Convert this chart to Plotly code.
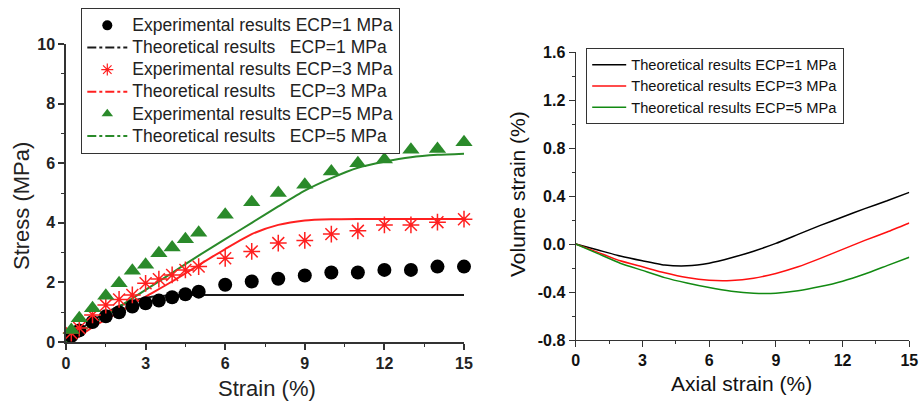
import plotly.graph_objects as go

# ---------------- Left panel data ----------------
strain_exp = [0.2, 0.5, 1, 1.5, 2, 2.5, 3, 3.5, 4, 4.5, 5, 6, 7, 8, 9, 10, 11, 12, 13, 14, 15]
exp_ecp1 = [0.2, 0.39, 0.67, 0.86, 1.0, 1.19, 1.3, 1.39, 1.5, 1.6, 1.69, 1.92, 2.03, 2.12, 2.23, 2.33, 2.33, 2.42, 2.42, 2.53, 2.53]
exp_ecp3 = [0.3, 0.47, 0.91, 1.24, 1.43, 1.58, 1.97, 2.11, 2.25, 2.42, 2.53, 2.81, 3.04, 3.32, 3.41, 3.62, 3.73, 3.93, 3.93, 4.02, 4.12]
exp_ecp5 = [0.4, 0.8, 1.13, 1.55, 1.97, 2.39, 2.59, 2.98, 3.17, 3.45, 3.67, 4.27, 4.69, 5.0, 5.28, 5.72, 6.0, 6.12, 6.45, 6.48, 6.7]

theo1_x = [0, 0.5, 1, 1.5, 2, 2.5, 3, 3.5, 4, 4.5, 15]
theo1_y = [0, 0.38, 0.72, 0.98, 1.2, 1.38, 1.48, 1.54, 1.57, 1.58, 1.58]
theo3_x = [0.2, 1, 2, 3, 4, 5, 6, 7, 8, 9, 10, 11, 15]
theo3_y = [0, 0.5, 1.0, 1.52, 2.03, 2.58, 3.12, 3.62, 3.93, 4.08, 4.12, 4.13, 4.13]
theo5_x = [0, 1, 2, 3, 4, 5, 6, 7, 8, 9, 10, 11, 12, 13, 14, 15]
theo5_y = [0, 0.6, 1.18, 1.75, 2.32, 2.9, 3.45, 4.0, 4.55, 5.08, 5.5, 5.85, 6.05, 6.2, 6.28, 6.32]

# ---------------- Right panel data ----------------
axial_strain = [0, 1, 2, 3, 4, 5, 6, 7, 8, 9, 10, 11, 12, 13, 14, 15]
vol_ecp1 = [0, -0.05, -0.10, -0.14, -0.175, -0.182, -0.16, -0.115, -0.06, 0.005, 0.08, 0.155, 0.225, 0.295, 0.36, 0.43]
vol_ecp3 = [0, -0.07, -0.14, -0.19, -0.24, -0.28, -0.303, -0.305, -0.285, -0.245, -0.19, -0.12, -0.045, 0.03, 0.10, 0.175]
vol_ecp5 = [0, -0.08, -0.16, -0.22, -0.28, -0.325, -0.363, -0.393, -0.41, -0.41, -0.39, -0.355, -0.31, -0.25, -0.18, -0.11]

# ---------------- Tick labels ----------------
left_x_ticks = [0, 3, 6, 9, 12, 15]
left_y_ticks = [0, 2, 4, 6, 8, 10]
right_x_ticks = [0, 3, 6, 9, 12, 15]
right_y_ticks = [-0.8, -0.4, 0.0, 0.4, 0.8, 1.2, 1.6]
right_y_labels = ["-0.8", "-0.4", "0.0", "0.4", "0.8", "1.2", "1.6"]

left_legend_names = ["Experimental results ECP=1 MPa",
                     "Theoretical results\u00a0\u00a0\u00a0ECP=1 MPa",
                     "Experimental results ECP=3 MPa",
                     "Theoretical results\u00a0\u00a0\u00a0ECP=3 MPa",
                     "Experimental results ECP=5 MPa",
                     "Theoretical results\u00a0\u00a0\u00a0ECP=5 MPa"]
right_legend_names = ["Theoretical results ECP=1 MPa",
                      "Theoretical results ECP=3 MPa",
                      "Theoretical results ECP=5 MPa"]

FONT = "Liberation Sans, Arial, sans-serif"
BLACK = "#000000"
RED_L = "#ff2020"
GREEN_L = "#2a8a2a"
RED_R = "#ff1010"
GREEN_R = "#128a12"


def lname(s, px):
    return '<span style="font-size:%gpx">%s</span>' % (px, s)


def bold(vals):
    return ["<b>%s</b>" % v for v in vals]


fig = go.Figure()

# Left: theoretical lines (solid, drawn under markers)
for x, y, c in [(theo1_x, theo1_y, "#1a1a1a"), (theo3_x, theo3_y, RED_L), (theo5_x, theo5_y, GREEN_L)]:
    fig.add_trace(go.Scatter(x=x, y=y, mode="lines", line=dict(color=c, width=2, shape="spline", smoothing=0.6),
                             showlegend=False, xaxis="x", yaxis="y", hoverinfo="skip"))

# Left: experimental markers
exp_styles = [
    (exp_ecp1, dict(symbol="circle", size=14, color=BLACK)),
    (exp_ecp3, dict(symbol="asterisk-open", size=14, color=RED_L, line=dict(color=RED_L, width=1.5))),
    (exp_ecp5, dict(symbol="triangle-up", size=15, color=GREEN_L)),
]
for y, m in exp_styles:
    fig.add_trace(go.Scatter(x=strain_exp, y=y, mode="markers", marker=m, cliponaxis=False,
                             showlegend=False, xaxis="x", yaxis="y"))

# Left legend entries (smaller symbols, dash-dot lines)
legend_marks = [
    dict(symbol="circle", size=10, color=BLACK),
    dict(symbol="asterisk-open", size=10, color=RED_L, line=dict(color=RED_L, width=1.2)),
    dict(symbol="triangle-up", size=10, color=GREEN_L),
]
line_cols = ["#1a1a1a", RED_L, GREEN_L]
for k in range(3):
    fig.add_trace(go.Scatter(x=[None], y=[None], mode="markers", name=lname(left_legend_names[2 * k], 17.5),
                             marker=legend_marks[k], legend="legend", xaxis="x", yaxis="y"))
    fig.add_trace(go.Scatter(x=[None], y=[None], mode="lines", name=lname(left_legend_names[2 * k + 1], 17.5),
                             line=dict(color=line_cols[k], width=2, dash="dashdot"),
                             legend="legend", xaxis="x", yaxis="y"))

# Right panel lines
for y, c, n in [(vol_ecp1, BLACK, right_legend_names[0]), (vol_ecp3, RED_R, right_legend_names[1]),
                (vol_ecp5, GREEN_R, right_legend_names[2])]:
    fig.add_trace(go.Scatter(x=axial_strain, y=y, mode="lines", name=lname(n, 14.7),
                             line=dict(color=c, width=1.5, shape="spline", smoothing=0.5),
                             legend="legend2", xaxis="x2", yaxis="y2"))

W, H = 919, 401


def px_x(p):
    return p / W


def px_y(p):
    return 1 - p / H


axis_common = dict(showline=True, showgrid=False, zeroline=False, ticks="outside", mirror=False)

fig.update_layout(
    width=W, height=H,
    margin=dict(l=0, r=0, t=0, b=0, autoexpand=False),
    template="none",
    paper_bgcolor="white", plot_bgcolor="white",
    font=dict(family=FONT, color="#222"),
    xaxis=dict(**axis_common, domain=[px_x(66), px_x(464)], range=[0, 15],
               tickvals=left_x_ticks, ticktext=bold(left_x_ticks),
               linecolor="#333", linewidth=1.5, tickcolor="#333", tickwidth=1.5, ticklen=6,
               tickfont=dict(family=FONT, size=16, color="#222"),
               minor=dict(dtick=1.5, tick0=0, ticks="outside", ticklen=3, tickcolor="#333", tickwidth=1.2),
               anchor="y"),
    yaxis=dict(**axis_common, domain=[px_y(342), px_y(44)], range=[0, 10],
               tickvals=left_y_ticks, ticktext=bold(left_y_ticks),
               linecolor="#333", linewidth=1.5, tickcolor="#333", tickwidth=1.5, ticklen=6,
               tickfont=dict(family=FONT, size=16, color="#222"),
               minor=dict(dtick=1, tick0=0, ticks="outside", ticklen=3, tickcolor="#333", tickwidth=1.2),
               anchor="x"),
    xaxis2=dict(**axis_common, domain=[px_x(575.7), px_x(909.3)], range=[0, 15],
                tickvals=right_x_ticks, ticktext=bold(right_x_ticks),
                linecolor="#333", linewidth=1.3, tickcolor="#333", tickwidth=1.3, ticklen=6,
                tickfont=dict(family=FONT, size=16, color="#111"),
                minor=dict(dtick=1.5, tick0=0, ticks="outside", ticklen=3, tickcolor="#333", tickwidth=1.1),
                anchor="y2"),
    yaxis2=dict(**axis_common, domain=[px_y(340), px_y(52)], range=[-0.8, 1.6],
                tickvals=right_y_ticks, ticktext=bold(right_y_labels),
                linecolor="#333", linewidth=1.3, tickcolor="#333", tickwidth=1.3, ticklen=6,
                tickfont=dict(family=FONT, size=16, color="#111"),
                minor=dict(dtick=0.2, tick0=0, ticks="outside", ticklen=3, tickcolor="#333", tickwidth=1.1),
                anchor="x2"),
    legend=dict(x=px_x(81), y=px_y(8), xanchor="left", yanchor="top",
                bgcolor="white", bordercolor="#333", borderwidth=1.3,
                font=dict(family=FONT, size=14.7, color="#222"), itemwidth=40,
                tracegroupgap=0, traceorder="normal"),
    legend2=dict(x=px_x(586), y=px_y(48), xanchor="left", yanchor="top",
                 bgcolor="white", bordercolor="#333", borderwidth=1.2,
                 font=dict(family=FONT, size=14, color="#111"), itemwidth=34,
                 tracegroupgap=0),
    annotations=[
        dict(text="Stress (MPa)", x=px_x(21), y=px_y(206), xref="paper", yref="paper",
             textangle=-90, showarrow=False, xanchor="center", yanchor="middle",
             font=dict(family=FONT, size=22, color="#222")),
        dict(text="Strain (%)", x=px_x(267), y=px_y(388), xref="paper", yref="paper",
             showarrow=False, xanchor="center", yanchor="middle",
             font=dict(family=FONT, size=22, color="#222")),
        dict(text="Volume strain (%)", x=px_x(517), y=px_y(194), xref="paper", yref="paper",
             textangle=-90, showarrow=False, xanchor="center", yanchor="middle",
             font=dict(family=FONT, size=21, color="#111")),
        dict(text="Axial strain (%)", x=px_x(741), y=px_y(383), xref="paper", yref="paper",
             showarrow=False, xanchor="center", yanchor="middle",
             font=dict(family=FONT, size=21, color="#111")),
    ],
)

fig.write_html("out.html")
